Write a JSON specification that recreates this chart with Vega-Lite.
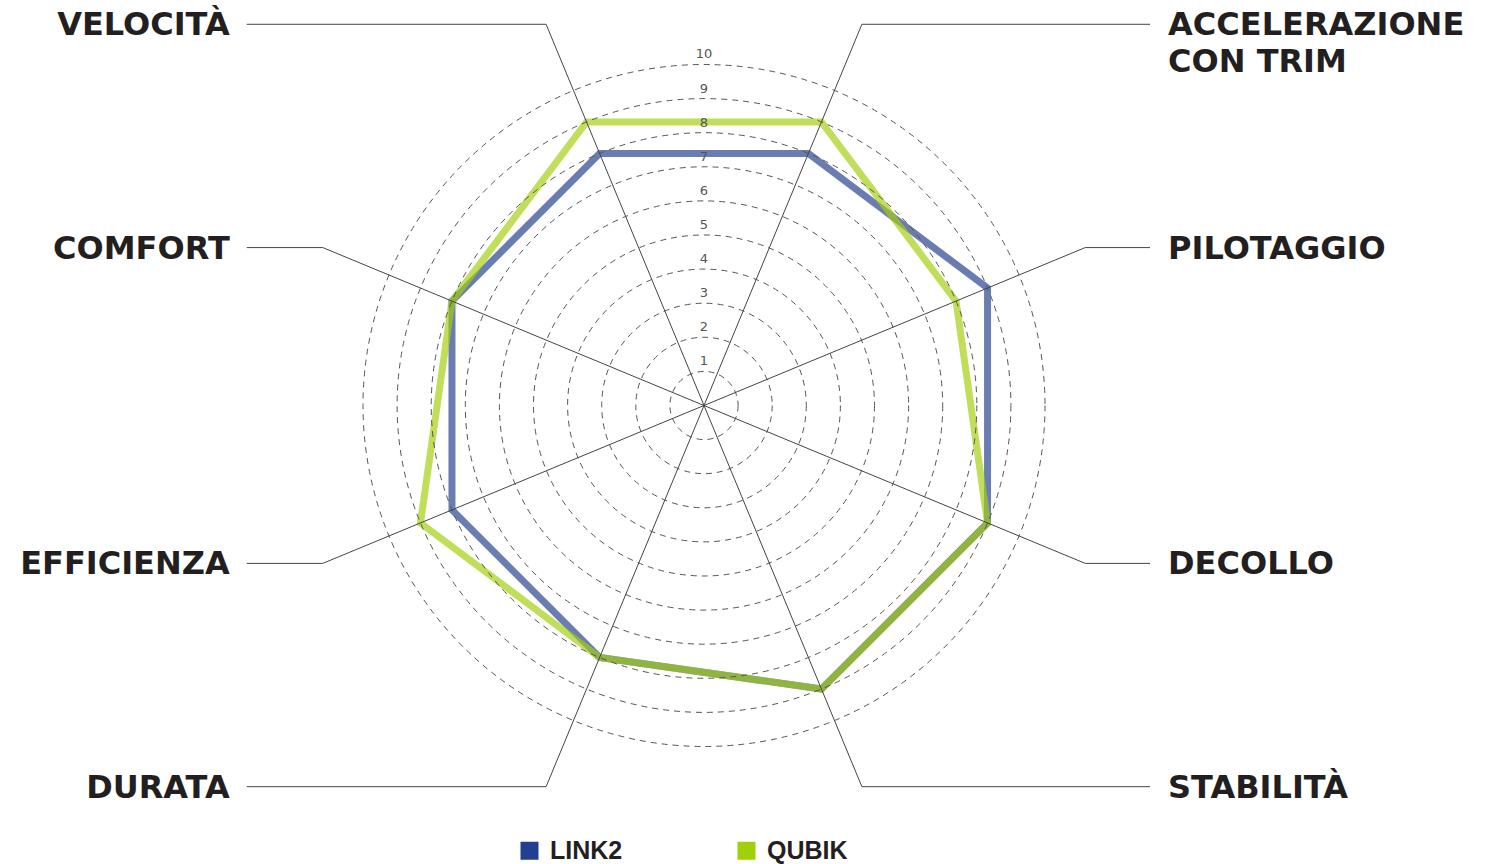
{
  "$schema": "https://vega.github.io/schema/vega-lite/v6.json",
  "width": 1495,
  "height": 864,
  "autosize": {"type": "none"},
  "padding": 0,
  "background": "white",
  "config": {"view": {"stroke": null}},
  "datasets": {
    "criteri": [
      {"criterio": "VELOCITÀ", "k": 0},
      {"criterio": "ACCELERAZIONE\nCON TRIM", "k": 1},
      {"criterio": "PILOTAGGIO", "k": 2},
      {"criterio": "DECOLLO", "k": 3},
      {"criterio": "STABILITÀ", "k": 4},
      {"criterio": "DURATA", "k": 5},
      {"criterio": "EFFICIENZA", "k": 6},
      {"criterio": "COMFORT", "k": 7}
    ],
    "punteggi": [
      {"prodotto": "LINK2", "criterio": "VELOCITÀ", "punteggio": 8},
      {"prodotto": "LINK2", "criterio": "ACCELERAZIONE\nCON TRIM", "punteggio": 8},
      {"prodotto": "LINK2", "criterio": "PILOTAGGIO", "punteggio": 9},
      {"prodotto": "LINK2", "criterio": "DECOLLO", "punteggio": 9},
      {"prodotto": "LINK2", "criterio": "STABILITÀ", "punteggio": 9},
      {"prodotto": "LINK2", "criterio": "DURATA", "punteggio": 8},
      {"prodotto": "LINK2", "criterio": "EFFICIENZA", "punteggio": 8},
      {"prodotto": "LINK2", "criterio": "COMFORT", "punteggio": 8},
      {"prodotto": "QUBIK", "criterio": "VELOCITÀ", "punteggio": 9},
      {"prodotto": "QUBIK", "criterio": "ACCELERAZIONE\nCON TRIM", "punteggio": 9},
      {"prodotto": "QUBIK", "criterio": "PILOTAGGIO", "punteggio": 8},
      {"prodotto": "QUBIK", "criterio": "DECOLLO", "punteggio": 9},
      {"prodotto": "QUBIK", "criterio": "STABILITÀ", "punteggio": 9},
      {"prodotto": "QUBIK", "criterio": "DURATA", "punteggio": 8},
      {"prodotto": "QUBIK", "criterio": "EFFICIENZA", "punteggio": 9},
      {"prodotto": "QUBIK", "criterio": "COMFORT", "punteggio": 8}
    ],
    "livelli": [
      {"livello": 1}, {"livello": 2}, {"livello": 3}, {"livello": 4}, {"livello": 5},
      {"livello": 6}, {"livello": 7}, {"livello": 8}, {"livello": 9}, {"livello": 10}
    ]
  },
  "layer": [
    {
      "data": {"name": "punteggi"},
      "transform": [
        {"lookup": "criterio", "from": {"data": {"name": "criteri"}, "key": "criterio", "fields": ["k"]}},
        {"calculate": "-PI/8 + datum.k*PI/4", "as": "ang"},
        {"calculate": "datum.punteggio*sin(datum.ang)", "as": "px"},
        {"calculate": "datum.punteggio*cos(datum.ang)", "as": "py"}
      ],
      "mark": {"type": "line", "interpolate": "linear-closed", "strokeWidth": 7, "opacity": 0.68, "strokeJoin": "miter", "strokeMiterLimit": 10},
      "encoding": {
        "x": {"field": "px", "type": "quantitative", "scale": {"domain": [-20.645, 23.196], "nice": false, "zero": false}, "axis": null},
        "y": {"field": "py", "type": "quantitative", "scale": {"domain": [-13.446, 11.891], "nice": false, "zero": false}, "axis": null},
        "order": {"field": "k", "type": "quantitative"},
        "color": {
          "field": "prodotto", "type": "nominal",
          "scale": {"domain": ["LINK2", "QUBIK"], "range": ["#243f8f", "#a2cf0c"]},
          "legend": {
            "orient": "none", "legendX": 517, "legendY": 838, "direction": "horizontal", "title": null,
            "symbolType": "square", "symbolSize": 4, "symbolStrokeWidth": 16, "symbolOpacity": 1,
            "labelFont": "Liberation Sans", "labelFontSize": 25, "labelFontWeight": "bold", "labelColor": "#231f20",
            "labelOffset": 8, "columnPadding": 90, "padding": 0,
            "encode": {"symbols": {"update": {"fill": {"scale": "color", "field": "value"}, "opacity": {"value": 1}, "strokeJoin": {"value": "miter"}}}}
          }
        }
      }
    },
    {
      "data": {"name": "livelli"},
      "mark": {"type": "point", "shape": "circle", "filled": false, "stroke": "#555555", "strokeWidth": 1, "strokeDash": [6, 5], "opacity": 1},
      "encoding": {
        "x": {"datum": 0, "type": "quantitative", "scale": {"domain": [-20.645, 23.196], "nice": false, "zero": false}, "axis": null},
        "y": {"datum": 0, "type": "quantitative", "scale": {"domain": [-13.446, 11.891], "nice": false, "zero": false}, "axis": null},
        "size": {"field": "livello", "type": "quantitative", "scale": {"type": "pow", "exponent": 2, "domain": [0, 10], "range": [0, 465124]}, "legend": null}
      }
    },
    {
      "data": {"name": "livelli"},
      "mark": {"type": "text", "font": "DejaVu Sans", "fontSize": 13, "color": "#555555", "baseline": "middle", "align": "center", "dy": -10},
      "encoding": {
        "x": {"datum": 0, "type": "quantitative", "scale": {"domain": [-20.645, 23.196], "nice": false, "zero": false}, "axis": null},
        "y": {"field": "livello", "type": "quantitative", "scale": {"domain": [-13.446, 11.891], "nice": false, "zero": false}, "axis": null},
        "text": {"field": "livello", "type": "quantitative"}
      }
    },
    {
      "data": {"name": "criteri"},
      "transform": [
        {"calculate": "-PI/8 + datum.k*PI/4", "as": "ang"},
        {"calculate": "12.1*sin(datum.ang)", "as": "ex"},
        {"calculate": "12.1*cos(datum.ang)", "as": "ey"},
        {"calculate": "datum.ex > 0 ? 13.08 : -13.41", "as": "lx"}
      ],
      "layer": [
        {
          "mark": {"type": "rule", "color": "#444444", "strokeWidth": 1},
          "encoding": {
            "x": {"field": "ex", "type": "quantitative", "scale": {"domain": [-20.645, 23.196], "nice": false, "zero": false}, "axis": null},
            "y": {"field": "ey", "type": "quantitative", "scale": {"domain": [-13.446, 11.891], "nice": false, "zero": false}, "axis": null},
            "x2": {"datum": 0},
            "y2": {"datum": 0}
          }
        },
        {
          "mark": {"type": "rule", "color": "#444444", "strokeWidth": 1},
          "encoding": {
            "x": {"field": "ex", "type": "quantitative", "scale": {"domain": [-20.645, 23.196], "nice": false, "zero": false}, "axis": null},
            "x2": {"field": "lx"},
            "y": {"field": "ey", "type": "quantitative", "scale": {"domain": [-13.446, 11.891], "nice": false, "zero": false}, "axis": null}
          }
        },
        {
          "transform": [{"filter": "datum.ex < 0"}],
          "mark": {"type": "text", "font": "DejaVu Sans", "fontWeight": "bold", "fontSize": 32, "color": "#231f20", "align": "right", "baseline": "alphabetic", "dx": -17, "dy": 11, "lineBreak": "\n", "lineHeight": 37},
          "encoding": {
            "x": {"field": "lx", "type": "quantitative", "scale": {"domain": [-20.645, 23.196], "nice": false, "zero": false}, "axis": null},
            "y": {"field": "ey", "type": "quantitative", "scale": {"domain": [-13.446, 11.891], "nice": false, "zero": false}, "axis": null},
            "text": {"field": "criterio", "type": "nominal"}
          }
        },
        {
          "transform": [{"filter": "datum.ex > 0"}],
          "mark": {"type": "text", "font": "DejaVu Sans", "fontWeight": "bold", "fontSize": 32, "color": "#231f20", "align": "left", "baseline": "alphabetic", "dx": 18, "dy": 11, "lineBreak": "\n", "lineHeight": 37},
          "encoding": {
            "x": {"field": "lx", "type": "quantitative", "scale": {"domain": [-20.645, 23.196], "nice": false, "zero": false}, "axis": null},
            "y": {"field": "ey", "type": "quantitative", "scale": {"domain": [-13.446, 11.891], "nice": false, "zero": false}, "axis": null},
            "text": {"field": "criterio", "type": "nominal"}
          }
        }
      ]
    }
  ]
}
